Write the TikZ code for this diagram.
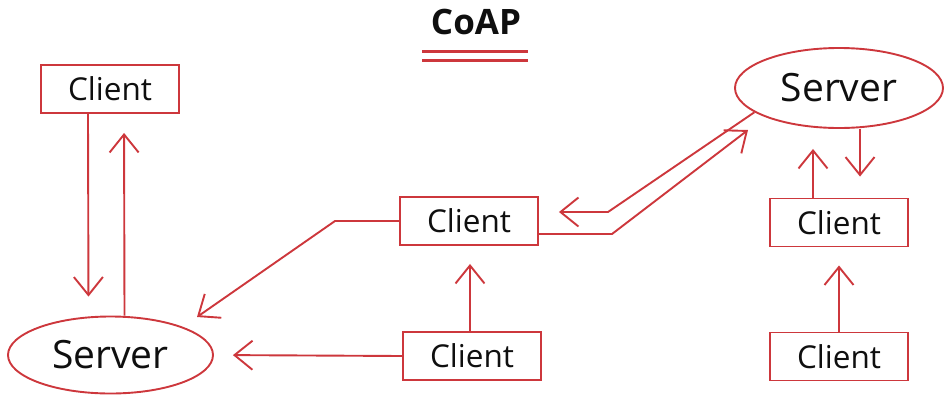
\documentclass[tikz,border=0pt]{standalone}
\usepackage{fontspec}
\setmainfont{Open Sans}
\usetikzlibrary{arrows.meta,shapes.geometric}
\definecolor{cred}{RGB}{205,55,60}
\definecolor{ctext}{RGB}{15,15,15}
\tikzset{
  clientbox/.style={draw=cred,line width=1.9pt,rectangle,minimum width=138pt,minimum height=48pt,inner sep=0pt,text=ctext,font=\fontsize{31.5}{33}\selectfont},
  serverell/.style={draw=cred,line width=1.9pt,ellipse,minimum width=205pt,minimum height=77pt,inner sep=0pt,text=ctext,font=\fontsize{39}{41}\selectfont},
  conn/.style={draw=cred,line width=1.9pt,-{Straight Barb[length=18pt,width=29pt,line width=1.9pt]}},
  plain/.style={draw=cred,line width=1.9pt}
}
\begin{document}
\begin{tikzpicture}[x=1pt,y=-1pt]
\useasboundingbox (0,0) rectangle (945,397);
% title
\node[font=\bfseries\fontsize{35}{37}\selectfont,text=ctext] (title) at (476,22) {CoAP};
\draw[cred,line width=3pt] (422,51.5) -- (528,51.5);
\draw[cred,line width=3pt] (422,60) -- (528,60);
% nodes
\node[clientbox] (c1) at (110,89) {Client};
\node[serverell] (s1) at (110.5,355) {Server};
\node[clientbox] (m1) at (469,221) {Client};
\node[clientbox] (b1) at (472,356) {Client};
\node[serverell,minimum width=208pt,minimum height=80pt] (s2) at (839,88) {Server};
\node[clientbox] (r1) at (839,222.5) {Client};
\node[clientbox] (r2) at (839,356.5) {Client};
% coordinates
\coordinate (k1) at (335,221);
\coordinate (t1) at (197,317);
\coordinate (u1) at (608,212);
\coordinate (u2) at (612,234);
\coordinate (t2) at (748,130);
% left pair
\draw[conn,shorten >=19pt] ([xshift=-22pt]c1.south) -- ([xshift=-22pt]s1.north);
\draw[conn,shorten >=19pt] ([xshift=14pt]s1.north) -- ([xshift=14pt]c1.south);
% to left server
\draw[conn,shorten >=19pt] (b1.west) -- (s1.east);
\draw[conn] (m1.west) -- (k1) -- (t1);
\draw[conn,shorten >=18pt] ([xshift=-2pt]b1.north) -- ([xshift=-2pt]b1.north |- m1.south);
% middle to right server
\draw[conn,shorten >=20pt] (s2.196) -- (u1) -- ([yshift=9pt]m1.east);
\draw[conn] ([yshift=-13pt]m1.east) -- (u2) -- (t2);
% right column
\draw[conn,shorten >=20pt] ([xshift=-26pt]r1.north) -- ([xshift=-26pt]s2.south);
\draw[conn,shorten >=21pt] ([xshift=21pt]s2.south) -- ([xshift=21pt]r1.north);
\draw[conn,shorten >=18pt] (r2.north) -- (r1.south);
\end{tikzpicture}
\end{document}
